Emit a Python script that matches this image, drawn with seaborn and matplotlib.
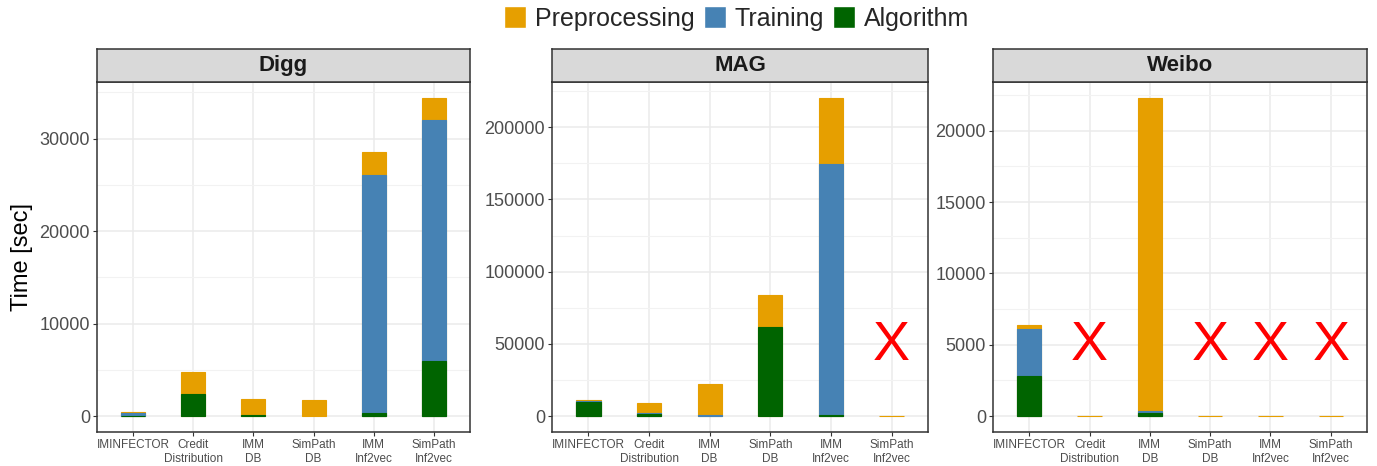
import numpy as np
import pandas as pd
import seaborn as sns
import matplotlib.pyplot as plt
from matplotlib.patches import Patch
from matplotlib.ticker import MultipleLocator

# categories and stage values (seconds)
methods = ["IMINFECTOR", "Credit\nDistribution", "IMM\nDB", "SimPath\nDB", "IMM\nInf2vec", "SimPath\nInf2vec"]
datasets = ["Digg", "MAG", "Weibo"]
stages = ["Preprocessing", "Training", "Algorithm"]

digg_pre = [130, 2350, 1730, 1700, 2400, 2400]
digg_train = [330, 0, 0, 0, 25800, 26000]
digg_alg = [20, 2400, 100, 0, 300, 6000]

mag_pre = [900, 7100, 21500, 22000, 45500, 0]
mag_train = [1000, 600, 800, 0, 174000, 0]
mag_alg = [9500, 1500, 0, 61500, 800, 0]

weibo_pre = [280, 0, 21970, 0, 0, 0]
weibo_train = [3280, 0, 80, 0, 0, 0]
weibo_alg = [2800, 0, 250, 0, 0, 0]

# methods that did not finish (marked with a red X)
digg_failed = []
mag_failed = ["SimPath\nInf2vec"]
weibo_failed = ["Credit\nDistribution", "SimPath\nDB", "IMM\nInf2vec", "SimPath\nInf2vec"]

y_steps = {"Digg": 10000, "MAG": 50000, "Weibo": 5000}
colors = {"Preprocessing": "#E69F00", "Training": "#4682B4", "Algorithm": "#006400"}

raw = {
    "Digg": (digg_pre, digg_train, digg_alg, digg_failed),
    "MAG": (mag_pre, mag_train, mag_alg, mag_failed),
    "Weibo": (weibo_pre, weibo_train, weibo_alg, weibo_failed),
}

rows = []
for ds in datasets:
    pre, train, alg, _ = raw[ds]
    for m, p, t, a in zip(methods, pre, train, alg):
        # stacked by overlaying cumulative totals; empty segments are skipped
        rows.append({"dataset": ds, "method": m,
                     "Algorithm": a if a > 0 else np.nan,
                     "Training": a + t if t > 0 else np.nan,
                     "Preprocessing": a + t + p})
df = pd.DataFrame(rows)

sns.set_style("white")
plt.rcParams["font.family"] = ["Liberation Sans", "DejaVu Sans"]

fig = plt.figure(figsize=(13.77, 4.66), dpi=100)
lefts = [97, 552, 993]
rights = [470, 928, 1367]
W, H = 1377, 466
p_bot, p_top, s_top = 432, 82, 49

for i, ds in enumerate(datasets):
    x0 = lefts[i] / W
    w = (rights[i] - lefts[i]) / W
    ax = fig.add_axes([x0, 1 - p_bot / H, w, (p_bot - p_top) / H])
    sub = df[df["dataset"] == ds]
    for st in stages:
        sns.barplot(data=sub, x="method", y=st, order=methods, color=colors[st],
                    width=0.4, saturation=1, errorbar=None, ax=ax, zorder=3,
                    edgecolor=colors[st], linewidth=0.8)
    ymax = sub["Preprocessing"].max()
    ax.set_ylim(-0.05 * ymax, 1.05 * ymax)
    ax.set_xlim(-0.6, len(methods) - 0.4)
    ax.yaxis.set_major_locator(MultipleLocator(y_steps[ds]))
    ax.yaxis.set_minor_locator(MultipleLocator(y_steps[ds] / 2))
    ax.grid(True, which="major", color="#EBEBEB", lw=1.1, zorder=0)
    ax.grid(True, which="minor", axis="y", color="#F2F2F2", lw=0.8, zorder=0)
    ax.set_axisbelow(True)
    for sp in ax.spines.values():
        sp.set_color("#333333")
        sp.set_linewidth(1.1)
    ax.tick_params(axis="y", which="major", labelsize=13, colors="#333333",
                   labelcolor="#4D4D4D", length=3, left=True, pad=2)
    ax.tick_params(axis="y", which="minor", left=False)
    ax.tick_params(axis="x", labelsize=8.5, colors="#333333", labelcolor="#4D4D4D",
                   length=3, bottom=True, pad=2)
    ax.set_xlabel("")
    ax.set_ylabel("Time [sec]" if i == 0 else "", fontsize=17, labelpad=5, color="black")

    for m in raw[ds][3]:
        ax.text(methods.index(m), 0.22 * ymax, "X", color="red", fontsize=40,
                ha="center", va="center", zorder=4)

    # facet strip
    sax = fig.add_axes([x0, 1 - p_top / H, w, (p_top - s_top) / H])
    sax.set_facecolor("#D9D9D9")
    sax.set_xticks([])
    sax.set_yticks([])
    for sp in sax.spines.values():
        sp.set_color("#333333")
        sp.set_linewidth(1.1)
    sax.text(0.5, 0.5, ds, ha="center", va="center", fontsize=16,
             fontweight="bold", color="#1A1A1A", transform=sax.transAxes)

handles = [Patch(facecolor=colors[s], label=s) for s in stages]
fig.legend(handles=handles, loc="upper center", bbox_to_anchor=(0.535, 1.035), ncol=3,
           frameon=False, fontsize=18, handlelength=0.9, handleheight=0.95,
           handletextpad=0.35, columnspacing=0.35)

fig.savefig("out.png", dpi=100)
